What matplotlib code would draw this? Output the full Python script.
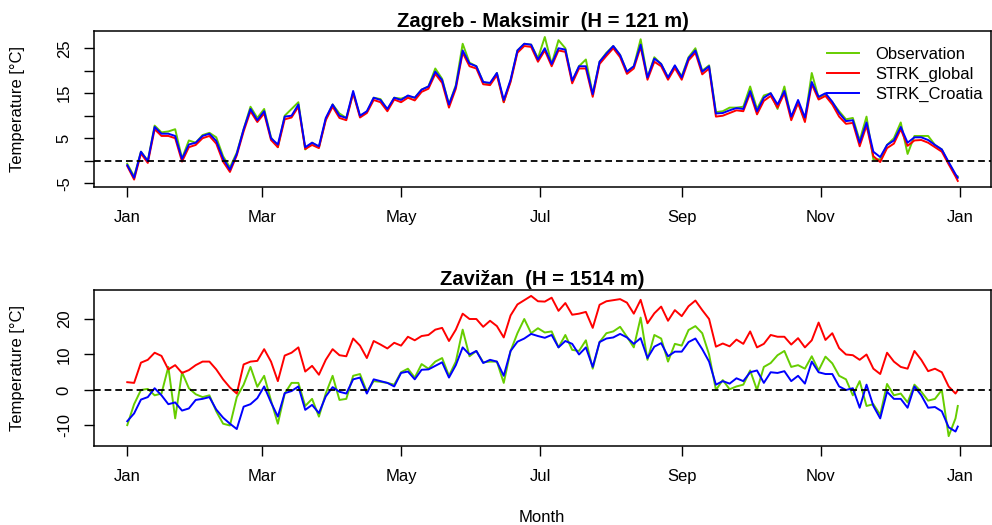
import matplotlib

matplotlib.use("Agg")
import matplotlib.pyplot as plt  # noqa: E402

plt.rcParams["font.family"] = ["Liberation Sans", "DejaVu Sans"]

# every third day of the year; last point = 31 Dec
days = list(range(1, 365, 3)) + [365]

month_pos = [1, 60, 121, 182, 244, 305, 366]
month_lab = ["Jan", "Mar", "May", "Jul", "Sep", "Nov", "Jan"]

# Zagreb - Maksimir
zg_obs = [
    -0.7, -3.5, 2.0, 0.0, 7.8, 6.3, 6.5, 7.0, 0.5, 4.5,
    4.0, 5.7, 6.2, 5.2, 1.0, -1.5, 1.8, 7.0, 12.0, 9.5,
    11.5, 5.2, 3.0, 10.0, 11.5, 13.0, 2.5, 4.0, 3.0, 9.2,
    12.5, 10.5, 9.5, 15.0, 10.0, 10.8, 14.0, 13.7, 11.3, 14.0,
    13.8, 14.3, 14.0, 15.8, 16.5, 20.5, 18.2, 12.5, 16.8, 26.0,
    21.8, 21.0, 17.5, 17.0, 19.5, 13.0, 17.8, 24.5, 26.0, 25.8,
    22.8, 27.5, 21.5, 26.8, 25.0, 17.6, 21.0, 22.5, 14.8, 22.0,
    24.0, 25.5, 23.5, 19.8, 21.0, 27.0, 18.5, 23.0, 21.5, 18.5,
    21.0,
    18.8, 23.0, 25.0, 20.0, 21.2, 10.8, 11.0, 11.8, 11.8, 12.0,
    16.5, 11.5, 14.5, 15.0, 11.5, 16.5, 9.5, 13.0, 9.0, 19.5,
    14.0, 14.8, 13.0, 11.0, 9.2, 9.5, 4.5, 9.8, 0.3, 0.3,
    3.5, 5.0, 8.5, 1.5, 5.5, 5.5, 5.5, 3.5, 2.5, -0.5,
    -3.2, -3.5,
]
zg_global = [
    -1.2, -4.2, 1.6, -0.5, 7.0, 5.5, 5.5, 5.0, -0.2, 3.0,
    3.5, 5.0, 5.5, 3.8, -0.2, -2.5, 1.2, 6.5, 11.0, 8.6,
    10.5, 4.6, 3.0, 9.2, 9.6, 12.0, 2.6, 3.5, 2.8, 9.0,
    12.0, 9.5, 9.0, 15.0, 9.6, 10.6, 13.5, 13.0, 11.0, 13.6,
    13.0, 14.0, 13.4, 15.3, 16.0, 19.3, 17.3, 11.8, 16.0, 24.0,
    21.0, 20.5, 17.0, 16.8, 19.0, 13.0, 17.5, 24.0, 25.5, 25.3,
    22.0, 24.5, 21.0, 24.5, 24.2, 17.2, 20.5, 20.5, 14.2, 21.5,
    23.3, 25.0, 23.0, 19.3, 20.5, 25.3, 18.0, 22.0, 21.0, 18.0,
    20.6,
    18.0, 22.3, 24.0, 19.2, 20.5, 9.8, 10.0, 10.6, 11.2, 11.0,
    15.0, 10.3, 13.3, 14.4, 11.8, 15.0, 9.0, 12.8, 8.6, 17.0,
    13.6, 14.4, 12.5, 9.8, 8.2, 8.4, 3.2, 7.8, 1.0, -0.3,
    2.8, 3.8, 7.0, 3.3, 4.5, 4.6, 4.0, 3.0, 2.0, -0.8,
    -3.5, -4.5,
]
zg_cro = [
    -1.0, -3.8, 2.0, -0.1, 7.5, 6.0, 6.0, 5.5, 0.4, 3.6,
    4.0, 5.5, 6.0, 4.4, 0.5, -2.0, 1.5, 7.0, 11.5, 9.0,
    11.0, 5.0, 3.6, 9.8, 10.0, 12.5, 3.0, 4.0, 3.2, 9.5,
    12.5, 10.0, 9.5, 15.5, 10.0, 11.0, 14.0, 13.5, 11.5, 14.0,
    13.5, 14.5, 14.0, 15.8, 16.5, 19.8, 17.9, 12.5, 16.5, 24.5,
    21.6, 21.0, 17.5, 17.3, 19.5, 13.5, 18.0, 24.5, 26.0, 25.8,
    22.5, 25.0, 21.5, 25.0, 24.7, 17.8, 21.0, 21.0, 14.8, 22.0,
    23.8, 25.5, 23.5, 19.8, 21.0, 25.8, 18.5, 22.7, 21.5, 18.5,
    21.2,
    18.5, 22.8, 24.5, 19.8, 21.0, 10.5, 10.6, 11.2, 11.7, 11.5,
    15.5, 11.0, 14.0, 15.0, 12.5, 15.5, 9.8, 13.5, 9.6, 17.5,
    14.2, 15.0, 13.1, 10.6, 8.8, 9.0, 4.0, 8.5, 2.0, 0.8,
    3.5, 4.5, 7.5, 4.0, 5.2, 5.2, 4.6, 3.5, 2.5, -0.3,
    -3.0, -3.8,
]

# Zavizan
zv_obs = [
    -9.9, -4.0, 0.0, 0.3, -1.5, -1.0, 6.5, -8.0, 5.0, 0.5,
    -1.2, -2.0, -1.5, -6.0, -9.5, -10.0, -2.0, 1.5, 6.5, 0.9,
    4.0, -3.0, -9.5, -1.0, 2.0, 2.0, -4.5, -2.5,
    -7.5, -1.0, 4.0, -2.8, -2.5, 4.0, 4.5, -0.5, 2.5, 2.3,
    2.0, 1.5, 5.0, 6.0, 3.5, 7.3, 6.0, 8.0, 9.0, 4.0,
    8.0, 17.0, 9.5, 11.0, 7.8, 8.0, 8.0, 2.0, 11.0,
    16.0, 20.0, 16.0, 17.4, 16.2, 16.5, 12.0, 15.5, 11.3, 11.0,
    14.0, 6.0, 13.5, 16.0, 16.5, 17.8, 15.0, 12.0, 20.4, 8.5,
    15.5, 14.5, 8.0, 13.0, 12.5, 16.9, 18.0, 16.0, 10.0, 0.0,
    2.8,
    0.2, 1.0, 1.5, 5.5, 0.0, 6.5, 7.6, 9.8, 11.0, 6.5,
    7.0, 6.0, 9.5, 5.5, 9.4, 7.5, 4.0, 3.0, -1.5, 2.5,
    -4.5, -4.0, -7.0, 1.7, -1.5, -1.0, -3.5, 1.5, -0.5, -3.0,
    -2.5, 0.0, -13.0, -8.0, -4.5,
]
zv_global = [
    2.2, 2.0, 7.7, 8.5, 10.5, 9.6, 5.8, 7.0, 4.8, 5.6,
    7.0, 8.0, 8.0, 5.8, 3.0, 0.7, -1.0, 7.2, 8.0, 8.2,
    11.5, 8.0, 2.5, 9.7, 10.5, 12.0, 5.2, 6.8,
    4.3, 8.5, 11.5, 9.8, 9.5, 14.5, 12.5, 9.0, 13.8, 12.8,
    11.7, 13.3, 12.5, 15.0, 14.0, 15.2, 15.5, 17.0, 17.5, 13.8,
    17.0, 21.5, 20.0, 20.0, 17.8, 19.5, 18.0, 14.8, 21.0,
    24.1, 25.3, 26.5, 25.0, 24.9, 26.0, 22.3, 24.5, 21.2, 21.5,
    22.0, 17.5, 24.0, 25.0, 25.3, 25.6, 24.6, 21.5, 25.4, 18.8,
    21.6, 23.5, 19.5, 22.5, 20.8, 23.6, 25.2, 22.5, 20.0, 12.2,
    13.1,
    12.3, 14.2, 13.0, 16.5, 12.0, 13.0, 15.5, 15.0, 15.0, 12.8,
    14.6, 12.0, 14.0, 19.0, 14.1, 16.0, 11.8, 10.0, 9.8, 8.5,
    10.0, 6.0, 4.5, 10.5, 8.0, 6.5, 6.0, 11.0, 8.5, 5.3,
    6.0, 5.0, 1.0, -1.0, 0.0,
]
zv_cro = [
    -8.8, -6.6, -2.7, -2.0, 0.5, -1.5, -4.0, -3.5, -5.8, -5.2,
    -2.8, -2.5, -2.0, -5.5, -7.8, -9.5, -11.0, -4.7, -4.0, -2.3,
    1.0, -3.5, -7.5, -0.9, -0.3, 1.0, -5.6, -4.2,
    -6.5, -1.8, 0.8, -0.5, -1.0, 3.0, 3.5, -1.0, 3.0, 2.5,
    2.0, 1.0, 4.8, 5.2, 3.0, 5.7, 5.8, 6.8, 7.8, 3.5,
    7.0, 12.0, 10.0, 11.0, 7.6, 8.5, 8.0, 4.0, 11.0,
    13.6, 14.5, 15.8, 15.2, 14.7, 15.5, 12.0, 13.8, 13.0, 10.0,
    12.0, 6.5, 13.5, 14.5, 14.8, 15.8, 14.8, 13.0, 14.6, 9.0,
    12.2, 13.2, 9.5, 10.8, 10.8, 13.5, 14.5, 11.5, 8.0, 1.5,
    2.5,
    1.8, 3.3, 2.5, 5.0, 5.5, 2.0, 5.0, 4.8, 5.3, 2.5,
    4.0, 1.8, 8.0, 5.0, 4.5, 4.5, 1.0, 0.0, 0.5, -5.0,
    1.5, -4.5, -8.0, -0.5, -2.5, -2.5, -5.0, 1.0, -1.5, -5.0,
    -4.8, -6.0, -10.5, -11.7, -10.3,
]

NAMES = ["Observation", "STRK_global", "STRK_Croatia"]
COLS = ["#66CD00", "red", "blue"]


def panel(ax, title, series, ylim, yticks, ylabels):
    for vals, name, col in zip(series, NAMES, COLS):
        assert len(vals) == len(days), (name, len(vals))
        ax.plot(days, vals, color=col, lw=1.4, label=name)
    ax.axhline(0, color="black", lw=1.3, ls=(0, (3.7, 2.2)))
    ax.set_xlim(-13.56, 379.56)
    ax.set_ylim(*ylim)
    ax.set_xticks(month_pos)
    ax.set_xticklabels(month_lab)
    ax.set_yticks(yticks)
    ax.set_yticklabels(ylabels, rotation=90, va="center")
    ax.tick_params(direction="out", length=7, width=1, labelsize=12, pad=9)
    ax.tick_params(axis="x", pad=10)
    for s in ax.spines.values():
        s.set_linewidth(1.1)
    ax.set_title(title, fontsize=14.5, fontweight="bold", pad=3)
    ax.set_ylabel("Temperature [°C]", fontsize=12)
    ax.yaxis.set_label_coords(-69 / 897, 0.5)


fig = plt.figure(figsize=(9.92, 5.25), dpi=100)
ax1 = fig.add_axes([0.0948, 0.6444, 0.9042, 0.2971])
ax2 = fig.add_axes([0.0948, 0.151, 0.9042, 0.2975])

panel(ax1, "Zagreb - Maksimir  (H = 121 m)", [zg_obs, zg_global, zg_cro],
      (-5.78, 28.9), [-5, 0, 5, 10, 15, 20, 25],
      ["-5", "", "5", "", "15", "", "25"])
panel(ax2, "Zavižan  (H = 1514 m)", [zv_obs, zv_global, zv_cro],
      (-15.7, 28.3), [-10, 0, 10, 20], ["-10", "0", "10", "20"])

ax1.legend(loc="upper right", bbox_to_anchor=(1.0 + 8 / 897, 1.0),
           frameon=False, fontsize=12, handlelength=1.9, handletextpad=1.0,
           labelspacing=0.3, borderaxespad=0.55)
fig.text(542 / 992, 1 - 518 / 525, "Month", ha="center", va="center",
         fontsize=12)

fig.savefig("out.png", dpi=100)
